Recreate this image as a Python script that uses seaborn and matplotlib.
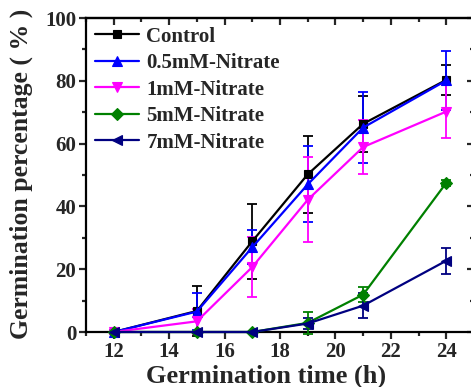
import matplotlib
matplotlib.use("Agg")
import matplotlib.pyplot as plt
from matplotlib.ticker import MultipleLocator, NullFormatter
import seaborn as sns
import pandas as pd

# Germination time points (h)
hours = [12, 15, 17, 19, 21, 24]

# Mean germination percentage per treatment
control = [0, 6.7, 28.9, 50.2, 66.3, 80.3]
nitrate_05 = [0, 6.5, 27.0, 47.0, 65.1, 80.1]
nitrate_1 = [0, 3.4, 20.7, 42.1, 58.9, 70.2]
nitrate_5 = [0, 0, 0, 2.9, 11.9, 47.5]
nitrate_7 = [0, 0, 0, 2.7, 8.4, 22.7]

# Standard deviations
control_err = [0.5, 8.0, 12.0, 12.3, 9.0, 4.8]
nitrate_05_err = [0.5, 6.0, 5.5, 12.1, 11.3, 9.4]
nitrate_1_err = [0.5, 4.0, 9.5, 13.5, 8.5, 8.5]
nitrate_5_err = [0, 0, 0, 3.4, 2.5, 1.0]
nitrate_7_err = [0, 0, 0, 1.8, 4.0, 4.2]

labels = ["Control", "0.5mM-Nitrate", "1mM-Nitrate", "5mM-Nitrate", "7mM-Nitrate"]
colors = ["#000000", "#0000FF", "#FF00FF", "#008000", "#000080"]
markers = ["s", "^", "v", "D", "<"]
msizes = [6, 7.5, 7.5, 6, 7.5]

means = [control, nitrate_05, nitrate_1, nitrate_5, nitrate_7]
errs = [control_err, nitrate_05_err, nitrate_1_err, nitrate_5_err, nitrate_7_err]

sns.set_style("ticks")
plt.rcParams["font.family"] = ["Liberation Serif", "DejaVu Serif"]
plt.rcParams["font.weight"] = "bold"
plt.rcParams["axes.labelweight"] = "bold"

fig = plt.figure(figsize=(4.71, 3.87), dpi=100)
ax = fig.add_axes([86 / 471, 55 / 387, 388 / 471, 314 / 387])

for lab, col, mk, ms, m, e in zip(labels, colors, markers, msizes, means, errs):
    df = pd.DataFrame({"time": hours, "pct": m})
    ax.errorbar(hours, m, yerr=e, fmt="none", ecolor=col, elinewidth=1.3,
                capsize=3.5, capthick=1.3, clip_on=False, zorder=3)
    sns.lineplot(data=df, x="time", y="pct", ax=ax, color=col, marker=mk,
                 markersize=ms, markeredgecolor=col, markeredgewidth=0.8,
                 linewidth=1.6, label=lab, clip_on=False, zorder=4)

ax.set_xlim(11, 25)
ax.set_ylim(0, 100)
ax.xaxis.set_major_locator(MultipleLocator(2))
ax.xaxis.set_minor_locator(MultipleLocator(1))
ax.yaxis.set_major_locator(MultipleLocator(20))
ax.yaxis.set_minor_locator(MultipleLocator(10))

for s in ax.spines.values():
    s.set_visible(True)
    s.set_linewidth(1.6)
    s.set_color("black")

ax.tick_params(axis="both", which="major", direction="out", length=5, width=1.6,
               labelsize=15, pad=2, top=False, right=False)
ax.tick_params(axis="both", which="minor", direction="out", length=3, width=1.6,
               top=False, right=False)

# Inward ticks on the top and right frame
top = ax.secondary_xaxis("top")
top.xaxis.set_major_locator(MultipleLocator(2))
top.xaxis.set_minor_locator(MultipleLocator(1))
top.xaxis.set_major_formatter(NullFormatter())
top.tick_params(which="major", direction="in", length=5, width=1.6)
top.tick_params(which="minor", direction="in", length=3, width=1.6)
top.spines["top"].set_linewidth(1.6)

right = ax.secondary_yaxis("right")
right.yaxis.set_major_locator(MultipleLocator(20))
right.yaxis.set_minor_locator(MultipleLocator(10))
right.yaxis.set_major_formatter(NullFormatter())
right.tick_params(which="major", direction="in", length=5, width=1.6)
right.tick_params(which="minor", direction="in", length=3, width=1.6)

for t in ax.get_xticklabels() + ax.get_yticklabels():
    t.set_fontweight("bold")

ax.set_xlabel("Germination time (h)", fontsize=19, fontweight="bold")
ax.xaxis.set_label_coords(0.465, -0.105)
ax.set_ylabel("Germination percentage ( % )", fontsize=18.5, fontweight="bold")
ax.yaxis.set_label_coords(-0.137, 0.505)

leg = ax.legend(loc="upper left", bbox_to_anchor=(0.0, 1.0), frameon=False,
                fontsize=15, handlelength=2.1, handletextpad=0.38,
                labelspacing=0.31, borderaxespad=0.0, borderpad=0.42)
for t in leg.get_texts():
    t.set_fontweight("bold")

fig.savefig("out.png", dpi=100)
